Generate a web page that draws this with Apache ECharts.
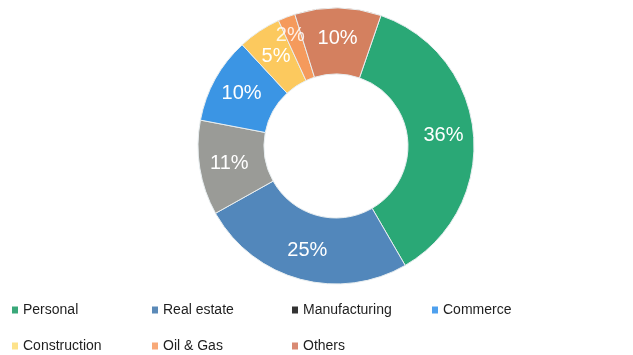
<!DOCTYPE html>
<html>
<head>
<meta charset="utf-8">
<script src="https://cdn.jsdelivr.net/npm/echarts@6/dist/echarts.min.js"></script>
<style>
  html, body { margin: 0; padding: 0; background: #fff; }
  #chart { width: 633px; height: 355px; }
</style>
</head>
<body>
<div id="chart"></div>
<script>
// Loan book breakdown by sector (percent of total)
const sectors = ['Personal', 'Real estate', 'Manufacturing', 'Commerce', 'Construction', 'Oil & Gas', 'Others'];
const shares = [36, 25, 11, 10, 5, 2, 10];
const sliceColors = ['#2aa876', '#5287bb', '#9a9b97', '#3b95e4', '#fcc95e', '#f59a5c', '#d4805f'];
const legendColors = ['#3aa87a', '#5b8ab8', '#333333', '#4ea0ee', '#fde28a', '#f8a978', '#d98a73'];

// legend grid: four columns, two rows
const legendCols = [12, 152, 292, 432];
const legendRowTops = [303, 339];

const chart = echarts.init(document.getElementById('chart'), null, { renderer: 'canvas' });

const FONT = 'Liberation Sans, Arial, sans-serif';

const legends = sectors.map((name, i) => ({
  left: legendCols[i % 4],
  top: legendRowTops[Math.floor(i / 4)],
  padding: 0,
  orient: 'horizontal',
  selectedMode: false,
  icon: 'rect',
  itemWidth: 6,
  itemHeight: 7,
  itemStyle: { borderWidth: 0 },
  textStyle: { fontFamily: FONT, fontSize: 14, color: '#1e1e1e' },
  data: [{ name: name, itemStyle: { color: legendColors[i], borderWidth: 0 } }]
}));

chart.setOption({
  animation: false,
  backgroundColor: '#ffffff',
  legend: legends,
  series: [{
    type: 'pie',
    center: [336, 146],
    radius: [72, 138],
    startAngle: 71,
    clockwise: true,
    avoidLabelOverlap: false,
    itemStyle: { borderColor: '#e8eef0', borderWidth: 1 },
    label: {
      show: true,
      position: 'inside',
      formatter: p => shares[p.dataIndex] + '%',
      color: '#ffffff',
      fontFamily: FONT,
      fontSize: 20,
      fontWeight: 'normal'
    },
    labelLine: { show: false },
    emphasis: { disabled: true },
    data: sectors.map((name, i) => ({
      name: name,
      value: shares[i],
      itemStyle: { color: sliceColors[i] },
      // narrow slice: keep its label box small so it is still drawn
      label: name === 'Oil & Gas' ? { width: 4, overflow: 'none', offset: [-7, -10], opacity: 0.85 } : undefined
    }))
  }]
});
</script>
</body>
</html>
